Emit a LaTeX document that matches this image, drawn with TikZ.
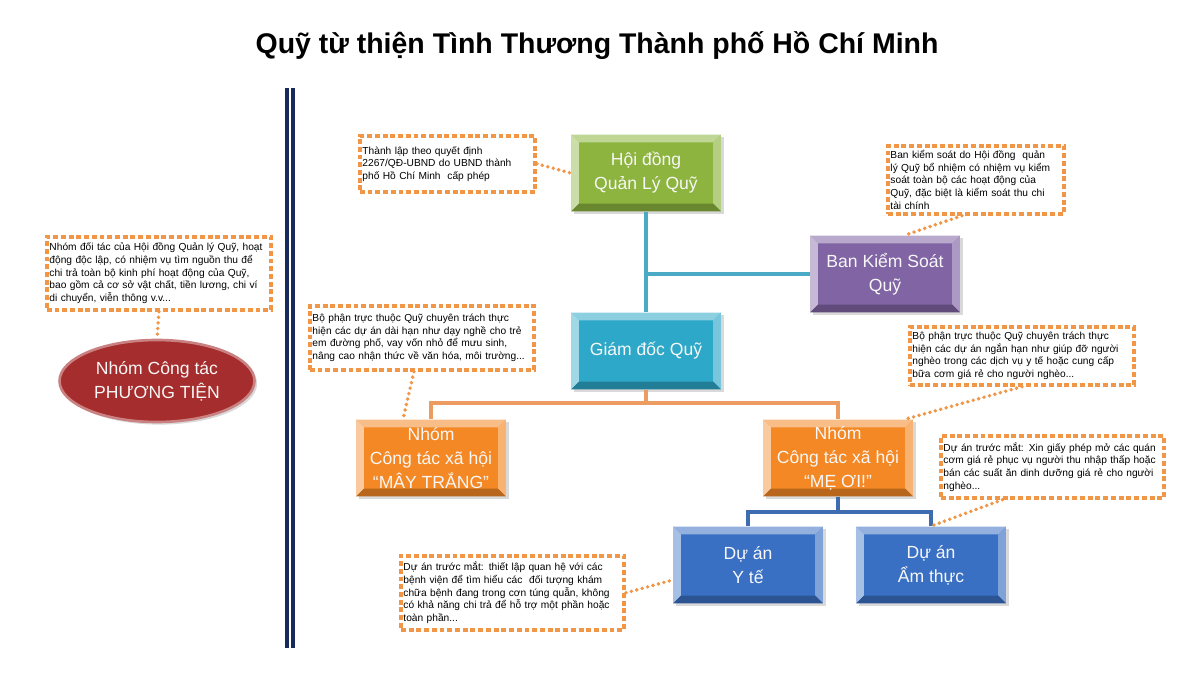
\documentclass[tikz,border=0pt]{standalone}
\usepackage{fontspec}
\setmainfont{Liberation Sans}
\usetikzlibrary{positioning,calc,shapes.geometric,shadows}
\definecolor{ruleNavy}{RGB}{22,42,92}
\definecolor{noteOrange}{RGB}{240,150,70}
\definecolor{boardGreen}{RGB}{140,180,62}
\definecolor{auditPurple}{RGB}{128,100,164}
\definecolor{directorCyan}{RGB}{45,168,200}
\definecolor{teamOrange}{RGB}{244,136,36}
\definecolor{projBlue}{RGB}{58,112,196}
\definecolor{ovalRed}{RGB}{165,45,45}
\definecolor{linkTeal}{RGB}{75,170,198}
\definecolor{linkOrange}{RGB}{236,156,96}
\definecolor{linkBlue}{RGB}{62,108,176}

\tikzset{
  bevelbox/.style={rectangle, minimum width=3cm, minimum height=1.54cm, fill=#1,
    inner sep=2pt, align=center, text=white!94!gray,
    font=\fontsize{10}{13.6}\selectfont,
    drop shadow={shadow xshift=1.5pt, shadow yshift=-1.5pt, opacity=.3},
    path picture={
      \coordinate (bnw) at (path picture bounding box.north west);
      \coordinate (bse) at (path picture bounding box.south east);
      \coordinate (bne) at (bse |- bnw);
      \coordinate (bsw) at (bnw |- bse);
      \fill[#1!55!white] (bnw) -- (bne) -- ([shift={(-4.5pt,-4.5pt)}]bne)
        -- ([shift={(4.5pt,-4.5pt)}]bnw) -- cycle;
      \fill[#1!45!white] (bnw) -- ([shift={(4.5pt,-4.5pt)}]bnw)
        -- ([shift={(4.5pt,4.5pt)}]bsw) -- (bsw) -- cycle;
      \fill[#1!65!white] (bne) -- (bse) -- ([shift={(-4.5pt,4.5pt)}]bse)
        -- ([shift={(-4.5pt,-4.5pt)}]bne) -- cycle;
      \fill[#1!75!black] (bsw) -- (bse) -- ([shift={(-4.5pt,4.5pt)}]bse)
        -- ([shift={(4.5pt,4.5pt)}]bsw) -- cycle;
    }},
  note/.style={rectangle, anchor=north west, draw=noteOrange, line width=2.1pt,
    dash pattern=on 2.8pt off 1.6pt, fill=white, align=left,
    inner xsep=1.5pt, inner ysep=2pt, font=\fontsize{5.8}{7.2}\selectfont},
  dotlink/.style={noteOrange, line width=2.2pt, line cap=round,
    dash pattern=on 0pt off 3.2pt},
  teamlink/.style={line width=2.3pt}
}

\begin{document}
\begin{tikzpicture}[x=0.02cm, y=-0.02cm]
    \useasboundingbox (0,0) rectangle (1200,675);
    % Title
    \node[font=\fontsize{16.2}{19}\selectfont\bfseries] (title) at (597,46)
      {Quỹ từ thiện Tình Thương Thành phố Hồ Chí Minh};
    % Double rule
    \draw[ruleNavy, line width=2.3pt] (287,88) -- (287,648);
    \draw[ruleNavy, line width=2.3pt] (293,88) -- (293,648);

    % Organisation boxes
    \node[bevelbox=boardGreen] (council) at (646,173) {Hội đồng\\Quản Lý Quỹ};
    \node[bevelbox=auditPurple] (control) at (885,274) {Ban Kiểm Soát\\Quỹ};
    \node[bevelbox=directorCyan] (director) at (646,351) {Giám đốc Quỹ};
    \node[bevelbox=teamOrange] (mayTrang) at (431,458)
      {Nhóm\\Công tác xã hội\\“MÂY TRẮNG”};
    \node[bevelbox=teamOrange] (meOi) at (838,458)
      {Nhóm\\Công tác xã hội\\“MẸ ƠI!”};
    \node[bevelbox=projBlue] (health) at (748,565) {Dự án\\Y tế};
    \node[bevelbox=projBlue] (food) at (931,565) {Dự án\\Ẩm thực};
    \node[ellipse, minimum width=3.9cm, minimum height=1.64cm, fill=ovalRed,
      draw=ovalRed!60!white, line width=1.5pt, text=white!94!gray,
      align=center, font=\fontsize{10}{13.6}\selectfont,
      drop shadow={shadow xshift=1.5pt, shadow yshift=-1.5pt, opacity=.3}]
      (transport) at (157,381) {Nhóm Công tác\\PHƯƠNG TIỆN};

    % Tree links
    \draw[linkTeal, teamlink] (council.south) -- (director.north);
    \draw[linkTeal, teamlink] (council.south |- control.west) -- (control.west);
    \draw[linkOrange, teamlink] (director.south) -- ++(0,13) -| (mayTrang.north);
    \draw[linkOrange, teamlink] (director.south) -- ++(0,13) -| (meOi.north);
    \draw[linkBlue, teamlink] (meOi.south) -- ++(0,15) -| (health.north);
    \draw[linkBlue, teamlink] (meOi.south) -- ++(0,15) -| (food.north);

    % Notes
    \node[note, minimum width=4.48cm, minimum height=1.46cm, text width=4.38cm]
      (cPartner) at (45,235)
      {Nhóm đối tác của Hội đồng Quản lý Quỹ, hoạt\\
       động độc lập, có nhiệm vụ tìm nguồn thu để\\
       chi trả toàn bộ kinh phí hoạt động của Quỹ,\\
       bao gồm cả cơ sở vật chất, tiền lương, chi ví\\
       di chuyển, viễn thông v.v...};
    \node[note, minimum width=3.5cm, minimum height=1.12cm, text width=3.4cm]
      (cFound) at (358,134)
      {Thành lập theo quyết định\\
       2267/QĐ-UBND do UBND thành\\
       phố Hồ Chí Minh\ \ cấp phép};
    \node[note, minimum width=3.52cm, minimum height=1.36cm, text width=3.42cm]
      (cControl) at (886,144)
      {Ban kiểm soát do Hội đồng\ \ quản\\
       lý Quỹ bổ nhiệm có nhiệm vụ kiểm\\
       soát toàn bộ các hoạt động của\\
       Quỹ, đặc biệt là kiểm soát thu chi\\
       tài chính};
    \node[note, minimum width=4.48cm, minimum height=1.28cm, text width=4.38cm]
      (cLong) at (308,304)
      {Bộ phận trực thuộc Quỹ chuyên trách thực\\
       hiện các dự án dài hạn như dạy nghề cho trẻ\\
       em đường phố, vay vốn nhỏ để mưu sinh,\\
       nâng cao nhận thức về văn hóa, môi trường...};
    \node[note, minimum width=4.48cm, minimum height=1.16cm, text width=4.38cm]
      (cShort) at (908,325)
      {Bộ phận trực thuộc Quỹ chuyên trách thực\\
       hiện các dự án ngắn hạn như giúp đỡ người\\
       nghèo trong các dịch vụ y tế hoặc cung cấp\\
       bữa cơm giá rẻ cho người nghèo...};
    \node[note, minimum width=4.46cm, minimum height=1.24cm, text width=4.36cm]
      (cFood) at (939,434)
      {Dự án trước mắt: Xin giấy phép mở các quán\\
       cơm giá rẻ phục vụ người thu nhập thấp hoặc\\
       bán các suất ăn dinh dưỡng giá rẻ cho người\\
       nghèo...};
    \node[note, minimum width=4.46cm, minimum height=1.48cm, text width=4.36cm]
      (cHealth) at (399,554)
      {Dự án trước mắt: thiết lập quan hệ với các\\
       bệnh viện để tìm hiểu các\ \ đối tượng khám\\
       chữa bệnh đang trong cơn túng quẫn, không\\
       có khả năng chi trả để hỗ trợ một phần hoặc\\
       toàn phần...};

    % Note pointers
    \draw[dotlink] (cPartner.south) -- (transport.north);
    \draw[dotlink] (cFound.east) -- (council.west);
    \draw[dotlink] ([shift={(-14,0)}]cControl.south) -- ([shift={(20,0)}]control.north);
    \draw[dotlink] ([shift={(-8,0)}]cLong.south) -- ([shift={(-28,0)}]mayTrang.north);
    \draw[dotlink] (cShort.south) -- ([shift={(-8,0)}]meOi.north east);
    \draw[dotlink] ([shift={(-50,0)}]cFood.south) -- (food.north);
    \draw[dotlink] (cHealth.east) -- ([shift={(0,15)}]health.west);
\end{tikzpicture}
\end{document}
